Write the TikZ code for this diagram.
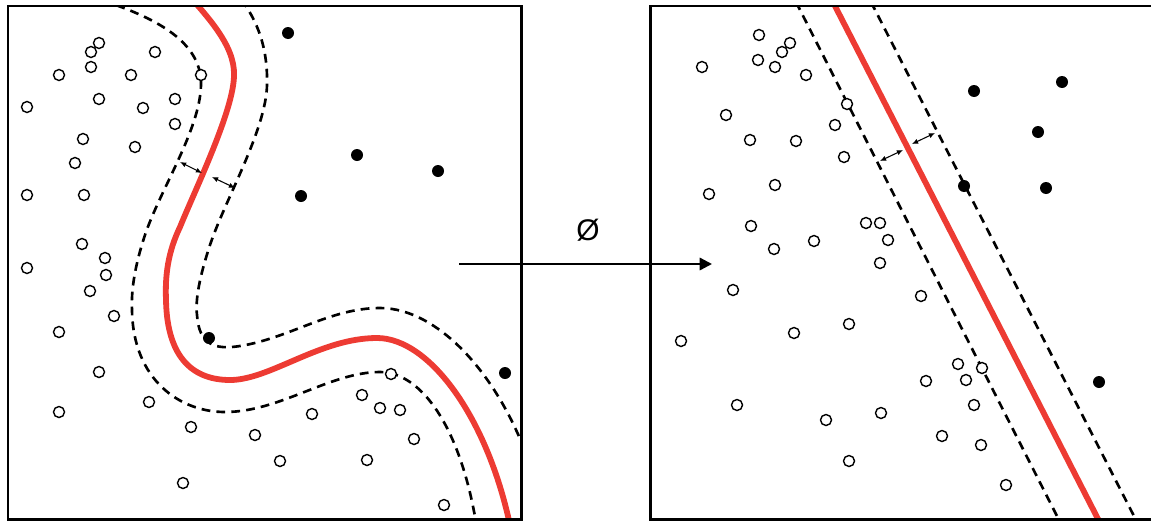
\documentclass[tikz,border=0pt]{standalone}
\usepackage{fontspec}
\setmainfont{Liberation Sans}
\usetikzlibrary{arrows.meta,calc}
\definecolor{svmred}{RGB}{237,59,51}
\begin{document}
\begin{tikzpicture}[x=0.02cm,y=-0.02cm,
  box/.style={line width=1.7pt},
  negdot/.style={circle,draw,line width=0.8pt,minimum size=0.22cm,inner sep=0pt},
  posdot/.style={circle,fill,minimum size=0.24cm,inner sep=0pt},
  boundary/.style={svmred,line width=3.3pt},
  margin/.style={line width=1.5pt,dash pattern=on 5pt off 3.5pt},
  gap/.style={{Latex[length=3.5pt,width=3pt]}-{Latex[length=3.5pt,width=3pt]},line width=0.6pt},
  maparrow/.style={-{Triangle[length=7pt,width=7pt]},line width=1.3pt}]
\useasboundingbox (0,0) rectangle (1151,521);

% ---------- left panel curves ----------
\begin{scope}
\clip (8,6) rectangle (521,519);
\draw[boundary] (184,-10) .. controls (206,15) and (235,45) .. (234,75)
  .. controls (234,110) and (195,190) .. (180,227)
  .. controls (168,252) and (165,275) .. (166,300)
  .. controls (167,360) and (195,380) .. (230,380)
  .. controls (270,380) and (320,338) .. (377,338)
  .. controls (430,338) and (490,420) .. (512,535);
\draw[margin] (88,-4) .. controls (152,15) and (202,40) .. (201,85)
  .. controls (200,130) and (160,190) .. (145,235)
  .. controls (135,265) and (131,290) .. (132,310)
  .. controls (133,380) and (180,412) .. (225,412)
  .. controls (280,412) and (330,372) .. (380,372)
  .. controls (420,372) and (462,425) .. (478,535);
\draw[margin] (232,-12) .. controls (256,15) and (268,45) .. (267,85)
  .. controls (266,130) and (225,200) .. (210,245)
  .. controls (200,275) and (195,300) .. (197,315)
  .. controls (199,345) and (215,350) .. (240,346)
  .. controls (290,338) and (330,308) .. (380,308)
  .. controls (440,308) and (505,380) .. (535,480);
\end{scope}

% margin arrows left
\coordinate (la1) at (180,162);
\coordinate (la2) at (202,173);
\coordinate (la3) at (212,177);
\coordinate (la4) at (235,188);
\draw[gap] (la1) -- (la2);
\draw[gap] (la3) -- (la4);

% left negatives
\foreach \x/\y [count=\i] in {99/43,91/52,155/52,59/75,91/67,131/75,201/75,27/107,99/99,143/108,175/99,175/124,83/139,135/147,75/163,27/195,84/195,82/244,105/258,27/268,106/275,90/291,114/316,59/332,99/372,59/412,149/402,191/427,255/435,183/483,391/374,362/395,380/408,400/410,312/414,414/439,280/461,367/460,444/505}
  \node[negdot,fill=white] (ln\i) at (\x,\y) {};
% left positives
\foreach \x/\y [count=\i] in {288/33,357/155,438/171,301/196,209/338,505/373}
  \node[posdot] (lp\i) at (\x,\y) {};

% left box
\draw[box] (8,6) rectangle (521,519);

% ---------- right panel ----------
\begin{scope}
\clip (650,6) rectangle (1151,519);
\coordinate (rt) at (835,6);
\coordinate (rb) at (1098,519);
\draw[boundary] ($(rt)!-0.05!(rb)$) -- ($(rb)!-0.05!(rt)$);
\draw[margin] (796,2) -- (1060,522);
\draw[margin] (871,2) -- (1137,522);
\end{scope}

\coordinate (ra1) at (880,161);
\coordinate (ra2) at (903,150);
\coordinate (ra3) at (912,144);
\coordinate (ra4) at (935,133);
\draw[gap] (ra1) -- (ra2);
\draw[gap] (ra3) -- (ra4);

\foreach \x/\y [count=\i] in {759/35,790/43,782/52,758/60,775/67,702/67,806/75,847/104,726/115,835/125,750/140,796/141,844/157,775/185,709/194,866/223,880/223,751/226,888/240,814/241,774/249,880/263,733/290,681/341,794/333,849/324,737/405,826/420,881/413,849/461,921/296,958/364,982/368,926/381,966/380,974/405,942/436,981/445,1006/485}
  \node[negdot,fill=white] (rn\i) at (\x,\y) {};
\foreach \x/\y [count=\i] in {974/91,1062/82,1038/132,964/186,1046/188,1099/382}
  \node[posdot] (rp\i) at (\x,\y) {};

\draw[box] (1153,6) -- (650,6) -- (650,519) -- (1153,519);

% ---------- mapping arrow ----------
\coordinate (mapS) at (459,264);
\coordinate (mapE) at (712,264);
\draw[maparrow] (mapS) -- (mapE);
\node[font=\fontsize{17}{20}\selectfont] (phi) at (588,230) {Ø};
\end{tikzpicture}
\end{document}
